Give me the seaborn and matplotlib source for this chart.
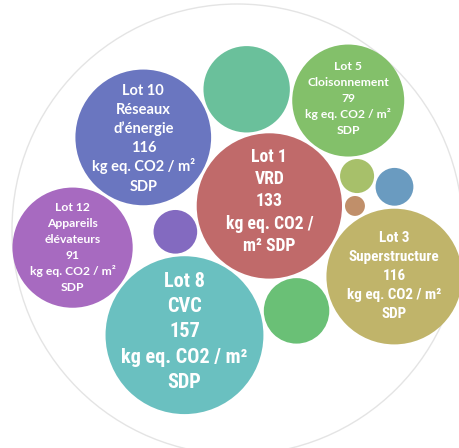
import numpy as np
import pandas as pd
import matplotlib
matplotlib.use("Agg")
import matplotlib.pyplot as plt
from matplotlib.patches import Circle
from matplotlib import font_manager as fm
import seaborn as sns

# ---------------- data ----------------
lots = ["Lot 1", "Lot 2", "Lot 3", "Lot 4", "Lot 5", "Lot 6",
        "Lot 7", "Lot 8", "Lot 9", "Lot 10", "Lot 11", "Lot 12"]
values = [133, 2.5, 116, 7.3, 79, 27, 47, 157, 9, 116, 12, 91]
names = {"Lot 1": "VRD", "Lot 3": "Superstructure", "Lot 5": "Cloisonnement",
         "Lot 8": "CVC", "Lot 10": "Réseaux d’énergie",
         "Lot 12": "Appareils élévateurs"}
unit = "kg eq. CO2 / m² SDP"

# text lines shown in the labelled bubbles
label_lines = {
    "Lot 1": ["Lot 1", "VRD", "133", "kg eq. CO2 /", "m² SDP"],
    "Lot 3": ["Lot 3", "Superstructure", "116", "kg eq. CO2 / m²", "SDP"],
    "Lot 5": ["Lot 5", "Cloisonnement", "79", "kg eq. CO2 / m²", "SDP"],
    "Lot 8": ["Lot 8", "CVC", "157", "kg eq. CO2 / m²", "SDP"],
    "Lot 10": ["Lot 10", "Réseaux", "d’énergie", "116", "kg eq. CO2 / m²", "SDP"],
    "Lot 12": ["Lot 12", "Appareils", "élévateurs", "91", "kg eq. CO2 / m²", "SDP"],
}

# ---------------- style / layout parameters ----------------
K = 6.3          # bubble radius (px) = K * sqrt(value)
PAD = 3.0        # gap between neighbouring bubbles (px)
DPI = 100
FIG_W, FIG_H = 459, 448

# packing: structural tangency rules (no coordinates)
seed_rule = ("Lot 8", "Lot 1", 123.3)   # placed against Lot 1 in this direction
tangent_rules = [
    ("Lot 6", "Lot 1", "Lot 8", -1),
    ("Lot 3", "Lot 1", "Lot 6", -1),
    ("Lot 11", "Lot 1", "Lot 8", +1),
    ("Lot 2", "Lot 1", "Lot 3", -1),
    ("Lot 4", "Lot 1", "Lot 2", -1),
    ("Lot 5", "Lot 1", "Lot 4", -1),
    ("Lot 7", "Lot 1", "Lot 5", -1),
    ("Lot 10", "Lot 1", "Lot 7", -1),
    ("Lot 12", "Lot 8", "Lot 10", -1),
    ("Lot 9", "Lot 4", "Lot 3", -1),
]

# label typography: (font group, reference line index, its width px,
#                    line pitch px, vertical shift px)
label_style = {
    "Lot 8": ("narrow", 3, 127.5, 25.3, -5.0),
    "Lot 1": ("narrow", 3, 88.0, 22.2, -6.0),
    "Lot 3": ("narrow", 3, 95.0, 19.2, -2.0),
    "Lot 10": ("humanist", 4, 103.0, 19.2, 0.0),
    "Lot 5": ("humanist", 3, 85.5, 16.0, -2.5),
    "Lot 12": ("humanist", 4, 85.5, 16.0, -1.5),
}

# ---------------- fonts ----------------
ttf = fm.fontManager.ttflist
avail = {f.name for f in ttf}
narrow_family, narrow_stretch = None, "normal"
for cand in ["Liberation Sans Narrow", "Arial Narrow", "Roboto Condensed",
             "Noto Sans Condensed", "Open Sans Condensed"]:
    if cand in avail:
        narrow_family = cand
        break
if narrow_family is None:
    for base in ["Noto Sans", "Roboto", "Open Sans"]:
        if any(f.name == base and str(f.stretch) in ("condensed", "semi-condensed")
               for f in ttf):
            narrow_family, narrow_stretch = base, "condensed"
            break
if narrow_family is None:
    narrow_family = "Liberation Sans"
humanist_family = "Lato" if "Lato" in avail else "DejaVu Sans"
fonts = {"narrow": ([narrow_family, "DejaVu Sans"], narrow_stretch),
         "humanist": ([humanist_family, "DejaVu Sans"], "normal")}

# ---------------- layout computation ----------------
radius = {l: K * np.sqrt(v) for l, v in zip(lots, values)}
pos = {"Lot 1": np.array([0.0, 0.0])}

name, parent, ang = seed_rule
d = radius[parent] + radius[name] + PAD
pos[name] = pos[parent] + d * np.array([np.cos(np.radians(ang)),
                                         np.sin(np.radians(ang))])


def tangent(a, ra, b, rb, r, side):
    da = ra + r + PAD
    db = rb + r + PAD
    dv = b - a
    dist = np.linalg.norm(dv)
    u = dv / dist
    x = (da ** 2 - db ** 2 + dist ** 2) / (2 * dist)
    h = np.sqrt(max(da ** 2 - x ** 2, 0.0))
    perp = np.array([-u[1], u[0]])
    return a + x * u + side * h * perp


for name, a, b, side in tangent_rules:
    pos[name] = tangent(pos[a], radius[a], pos[b], radius[b], radius[name], side)

df = pd.DataFrame({
    "lot": lots,
    "value": values,
    "x": [pos[l][0] for l in lots],
    "y": [pos[l][1] for l in lots],
    "r": [radius[l] for l in lots],
})

# enclosing circle from bubble extents
xmin = (df.x - df.r).min(); xmax = (df.x + df.r).max()
ymin = (df.y - df.r).min(); ymax = (df.y + df.r).max()
ocx, ocy = (xmin + xmax) / 2, (ymin + ymax) / 2
oR = max(xmax - xmin, ymax - ymin) / 2 + 0.5

# ---------------- drawing ----------------
sns.set_style("white")
fig = plt.figure(figsize=(FIG_W / DPI, FIG_H / DPI), dpi=DPI)
ax = fig.add_axes([0, 0, 1, 1])

left = ocx - oR - 12
top = ocy - oR - 4

ax.add_patch(Circle((ocx, ocy), oR, facecolor="none", edgecolor="#e4e4e4",
                    linewidth=1.0, zorder=0))

palette = sns.hls_palette(14, h=0.0, l=0.584, s=0.405)[:len(lots)]
vmax = max(values)
pt_per_px = 72.0 / DPI
s_max = (2 * K * np.sqrt(vmax) * pt_per_px) ** 2

sns.scatterplot(data=df, x="x", y="y", hue="lot", hue_order=lots,
                palette=palette, size="value", sizes=(0, s_max),
                size_norm=(0, vmax), linewidth=0, legend=False, ax=ax,
                zorder=1)
ax.set_xlim(left, left + FIG_W)
ax.set_ylim(top + FIG_H, top)   # y grows downward, 1 unit = 1 px
ax.set_axis_off()

renderer = fig.canvas.get_renderer()


def text_width(s, fam, stretch, size):
    t = ax.text(0, 0, s, fontsize=size, family=fam, fontweight="bold",
                fontstretch=stretch)
    w = t.get_window_extent(renderer).width
    t.remove()
    return w


CAP = 0.72  # cap-height / em
for lot, lines in label_lines.items():
    group, ref_idx, ref_w, pitch, shift = label_style[lot]
    fam, stretch = fonts[group]
    w10 = text_width(lines[ref_idx], fam, stretch, 10.0)
    fs = 10.0 * ref_w / w10
    cap_px = CAP * fs / pt_per_px
    n = len(lines)
    cx, cy = pos[lot]
    for i, line in enumerate(lines):
        row_mid = cy + shift + (i - (n - 1) / 2) * pitch
        ax.text(cx, row_mid + cap_px / 2, line, ha="center", va="baseline",
                color="white", fontweight="bold", family=fam,
                fontstretch=stretch, fontsize=fs, zorder=3)

fig.savefig("out.png", dpi=DPI)
